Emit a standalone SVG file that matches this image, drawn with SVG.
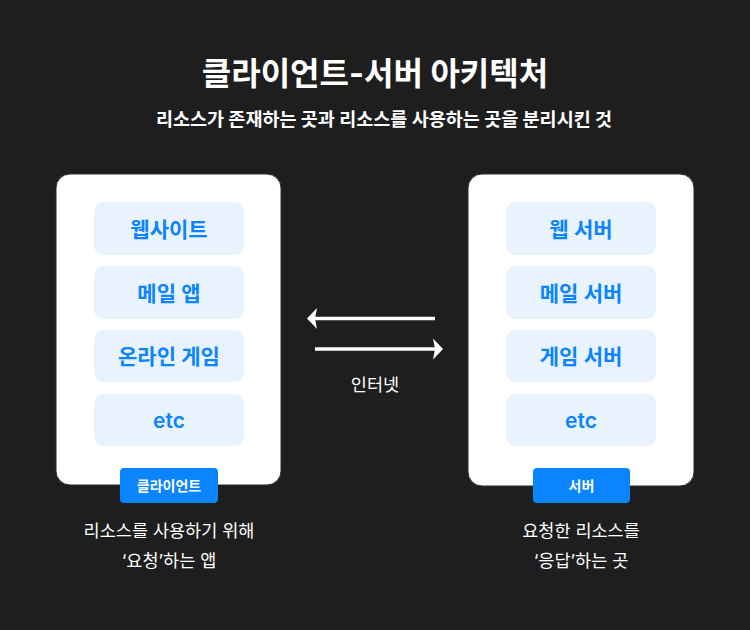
<svg xmlns="http://www.w3.org/2000/svg" width="750" height="630" viewBox="0 0 750 630">
  <defs>
    <style>
      text { font-family: "Inter", "Noto Sans CJK KR", "Noto Sans", sans-serif; text-anchor: middle; }
      .title { font-size: 32px; font-weight: 700; fill: #ffffff; }
      .sub { font-size: 18.5px; font-weight: 700; fill: #ffffff; }
      .panel { fill: #ffffff; stroke: #2c2c2c; stroke-width: 1; }
      .item { fill: #e9f3fe; }
      .itemtxt { font-size: 21px; font-weight: 600; fill: #0a84ff; }
      .tag { fill: #0a84ff; }
      .tagtxt { font-size: 14px; font-weight: 700; fill: #ffffff; }
      .cap { font-size: 17.5px; font-weight: 400; fill: #ffffff; }
      .line { stroke: #ffffff; stroke-width: 3.5; fill: none; }
      .head { fill: #ffffff; }
    </style>
  </defs>
  <rect x="0" y="0" width="750" height="630" fill="#1e1e1e"/>

  <g id="header">
    <text class="title" x="375" y="85">클라이언트-서버 아키텍처</text>
    <text class="sub" x="384" y="126">리소스가 존재하는 곳과 리소스를 사용하는 곳을 분리시킨 것</text>
  </g>

  <g id="client">
    <rect class="panel" x="56" y="174" width="225" height="311" rx="14"/>
    <g id="client-web">
      <rect class="item" x="94" y="202" width="150" height="53" rx="9"/>
      <text class="itemtxt" x="169" y="236.5">웹사이트</text>
    </g>
    <g id="client-mail">
      <rect class="item" x="94" y="266" width="150" height="53" rx="9"/>
      <text class="itemtxt" x="169" y="300.5">메일 앱</text>
    </g>
    <g id="client-game">
      <rect class="item" x="94" y="330" width="150" height="52" rx="9"/>
      <text class="itemtxt" x="169" y="363.5">온라인 게임</text>
    </g>
    <g id="client-etc">
      <rect class="item" x="94" y="394" width="150" height="52" rx="9"/>
      <text class="itemtxt" x="169" y="427.5">etc</text>
    </g>
    <g id="client-tag">
      <rect class="tag" x="120" y="468" width="98" height="35" rx="4"/>
      <text class="tagtxt" x="169" y="490.5">클라이언트</text>
    </g>
    <text class="cap" x="169" y="537">리소스를 사용하기 위해</text>
    <text class="cap" x="169" y="567">‘요청’하는 앱</text>
  </g>

  <g id="server">
    <rect class="panel" x="468" y="174" width="226" height="312" rx="14"/>
    <g id="server-web">
      <rect class="item" x="506" y="202" width="150" height="53" rx="9"/>
      <text class="itemtxt" x="581" y="236.5">웹 서버</text>
    </g>
    <g id="server-mail">
      <rect class="item" x="506" y="266" width="150" height="53" rx="9"/>
      <text class="itemtxt" x="581" y="300.5">메일 서버</text>
    </g>
    <g id="server-game">
      <rect class="item" x="506" y="330" width="150" height="52" rx="9"/>
      <text class="itemtxt" x="581" y="363.5">게임 서버</text>
    </g>
    <g id="server-etc">
      <rect class="item" x="506" y="394" width="150" height="52" rx="9"/>
      <text class="itemtxt" x="581" y="427.5">etc</text>
    </g>
    <g id="server-tag">
      <rect class="tag" x="533" y="468" width="97" height="35" rx="4"/>
      <text class="tagtxt" x="581.5" y="490.5">서버</text>
    </g>
    <text class="cap" x="581" y="537">요청한 리소스를</text>
    <text class="cap" x="581" y="567">‘응답’하는 곳</text>
  </g>

  <g id="connectors">
    <line class="line" x1="435" y1="318.5" x2="314" y2="318.5"/>
    <polygon class="head" points="307,318.5 317,308 315,318.5 317,329"/>
    <line class="line" x1="315" y1="349" x2="436" y2="349"/>
    <polygon class="head" points="443,349 433,338.5 435,349 433,359.5"/>
    <text class="cap" x="375" y="391">인터넷</text>
  </g>
</svg>
